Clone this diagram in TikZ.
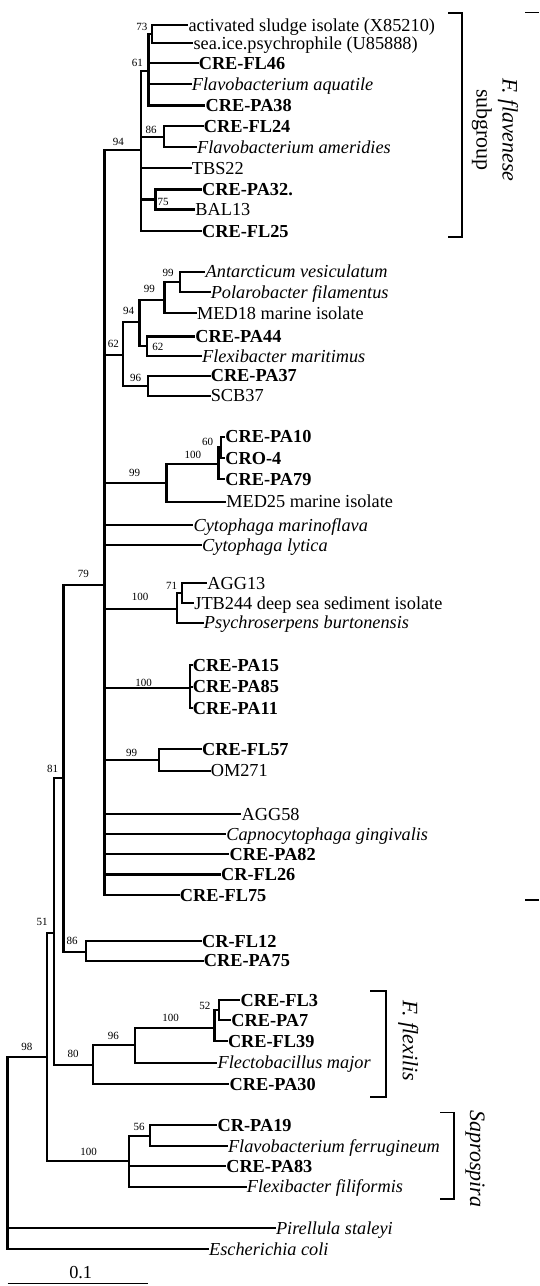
\documentclass[tikz,border=0pt]{standalone}
\usepackage{fontspec}
\setmainfont{Liberation Serif}
\newcommand\leaffont{\fontsize{18.3}{20}\selectfont}
\newcommand\bsfont{\fontsize{11}{12}\selectfont}
\newcommand\grpfont{\fontsize{22}{24}\selectfont}
\newcommand\leaf[5]{\coordinate (#1) at (#2,#3); \node[leaflab,#4] (#1-t) at (#1) {#5};}
\newcommand\kids[2]{\foreach \c in {#2} {\draw[branch] (#1) |- (\c);}}
\tikzset{
  branch/.style={line width=2.3pt, line cap=rect, line join=miter},
  leaflab/.style={anchor=base west, yshift=-6.05pt, inner xsep=1.2pt, inner ysep=0pt, font=\leaffont},
  lrg/.style={},
  lbf/.style={font=\leaffont\bfseries},
  lit/.style={font=\leaffont\itshape},
  bsl/.style={font=\bsfont, inner sep=0pt},
  brk/.style={line width=1.5pt},
  grp/.style={font=\grpfont, rotate=-90, inner sep=0pt}
}
\begin{document}
\begin{tikzpicture}[x=1pt,y=-1pt]
\useasboundingbox (0,0) rectangle (539,1286);
% ---- leaves ----
\leaf{L1}{187.1}{25}{lrg}{activated sludge isolate (X85210)}
\leaf{L2}{192.2}{43.3}{lrg}{sea.ice.psychrophile (U85888)}
\leaf{L3}{197.4}{63.3}{lbf}{CRE-FL46}
\leaf{L4}{190.5}{84.3}{lit}{Flavobacterium aquatile}
\leaf{L5}{204.3}{105.5}{lbf}{CRE-PA38}
\leaf{L6}{202.5}{126}{lbf}{CRE-FL24}
\leaf{L7}{195.7}{147.3}{lit}{Flavobacterium ameridies}
\leaf{L8}{190.5}{168.3}{lrg}{TBS22}
\leaf{L9}{200.8}{189.5}{lbf}{CRE-PA32.}
\leaf{L10}{194}{209.5}{lrg}{BAL13}
\leaf{L11}{200.8}{231}{lbf}{CRE-FL25}
\leaf{L12}{204.3}{271.7}{lit}{Antarcticum vesiculatum}
\leaf{L13}{209.4}{292}{lit}{Polarobacter filamentus}
\leaf{L14}{195.7}{313.3}{lrg}{MED18 marine isolate}
\leaf{L15}{194}{336.5}{lbf}{CRE-PA44}
\leaf{L16}{200.8}{356}{lit}{Flexibacter maritimus}
\leaf{L17}{209.4}{375.7}{lbf}{CRE-PA37}
\leaf{L18}{209.4}{395.7}{lrg}{SCB37}
\leaf{L19}{224}{436.7}{lbf}{CRE-PA10}
\leaf{L20}{224}{458.3}{lbf}{CRO-4}
\leaf{L21}{224}{479.3}{lbf}{CRE-PA79}
\leaf{L22}{224.9}{501.7}{lrg}{MED25 marine isolate}
\leaf{L23}{192.2}{525}{lit}{Cytophaga marinoflava}
\leaf{L24}{200.8}{545}{lit}{Cytophaga lytica}
\leaf{L25}{206}{583.3}{lrg}{AGG13}
\leaf{L26}{193}{603.3}{lrg}{JTB244 deep sea sediment isolate}
\leaf{L27}{202.5}{622.7}{lit}{Psychroserpens burtonensis}
\leaf{L28}{191.5}{665}{lbf}{CRE-PA15}
\leaf{L29}{191.5}{686.7}{lbf}{CRE-PA85}
\leaf{L30}{191.5}{708.3}{lbf}{CRE-PA11}
\leaf{L31}{200.8}{749.3}{lbf}{CRE-FL57}
\leaf{L32}{209.4}{770.7}{lrg}{OM271}
\leaf{L33}{240.3}{814}{lrg}{AGG58}
\leaf{L34}{224.9}{834}{lit}{Capnocytophaga gingivalis}
\leaf{L35}{228.3}{854}{lbf}{CRE-PA82}
\leaf{L36}{219.7}{874.5}{lbf}{CR-FL26}
\leaf{L37}{178.5}{895}{lbf}{CRE-FL75}
\leaf{L38}{200.8}{941}{lbf}{CR-FL12}
\leaf{L39}{202.5}{960.7}{lbf}{CRE-PA75}
\leaf{L40}{239.3}{1000}{lbf}{CRE-FL3}
\leaf{L41}{230}{1020}{lbf}{CRE-PA7}
\leaf{L42}{226.6}{1041}{lbf}{CRE-FL39}
\leaf{L43}{216.3}{1062.7}{lit}{Flectobacillus major}
\leaf{L44}{228.3}{1084}{lbf}{CRE-PA30}
\leaf{L45}{216.3}{1125}{lbf}{CR-PA19}
\leaf{L46}{226.6}{1146}{lit}{Flavobacterium ferrugineum}
\leaf{L47}{224.9}{1166}{lbf}{CRE-PA83}
\leaf{L48}{245.5}{1186.7}{lit}{Flexibacter filiformis}
\leaf{L49}{274.6}{1228.3}{lit}{Pirellula staleyi}
\leaf{L50}{207.7}{1249.3}{lit}{Escherichia coli}
% ---- internal nodes ----
\coordinate (n73) at (152.1,34);
\coordinate (n86a) at (164.1,137);
\coordinate (n75) at (155.5,199.5);
\coordinate (n61) at (148.6,71);
\coordinate (n94a) at (140.7,150);
\coordinate (n99a) at (180.2,282);
\coordinate (n99b) at (164.5,300);
\coordinate (n62a) at (147.3,346);
\coordinate (n94b) at (139.5,322);
\coordinate (n96a) at (148.3,386);
\coordinate (n62b) at (122.9,355);
\coordinate (n60) at (221,447.5);
\coordinate (n100a) at (218.5,464.3);
\coordinate (n99c) at (166.5,482.7);
\coordinate (n71) at (181.9,593);
\coordinate (n100b) at (176.8,609.3);
\coordinate (n100c) at (189.8,688);
\coordinate (n99d) at (158.9,760);
\coordinate (n79) at (104.5,585);
\coordinate (n86b) at (85.8,951.7);
\coordinate (n81) at (63.5,778);
\coordinate (n52) at (218.7,1010);
\coordinate (n100d) at (214.6,1028.3);
\coordinate (n96b) at (134.9,1045);
\coordinate (n80) at (92.7,1065);
\coordinate (n51) at (54.2,933.3);
\coordinate (n56) at (150,1135.7);
\coordinate (n100e) at (128.7,1161);
\coordinate (n98) at (47,1056.7);
\coordinate (root) at (7.6,1150);
% ---- branches ----
\kids{n73}{L1,L2}
\kids{n86a}{L6,L7}
\kids{n75}{L9,L10}
\kids{n61}{n73,L3,L4,L5}
\kids{n94a}{n61,n86a,L8,n75,L11}
\kids{n99a}{L12,L13}
\kids{n99b}{n99a,L14}
\kids{n62a}{L15,L16}
\kids{n94b}{n99b,n62a}
\kids{n96a}{L17,L18}
\kids{n62b}{n94b,n96a}
\kids{n60}{L19,L20}
\kids{n100a}{n60,L21}
\kids{n99c}{n100a,L22}
\kids{n71}{L25,L26}
\kids{n100b}{n71,L27}
\kids{n100c}{L28,L29,L30}
\kids{n99d}{L31,L32}
\kids{n79}{n94a,n62b,n99c,L23,L24,n100b,n100c,n99d,L33,L34,L35,L36,L37}
\kids{n86b}{L38,L39}
\kids{n81}{n79,n86b}
\kids{n52}{L40,L41}
\kids{n100d}{n52,L42}
\kids{n96b}{n100d,L43}
\kids{n80}{n96b,L44}
\kids{n51}{n81,n80}
\kids{n56}{L45,L46}
\kids{n100e}{n56,L47,L48}
\kids{n98}{n51,n100e}
\kids{root}{n98,L49,L50}
% ---- bootstrap values ----
\node[bsl] (b1) at (141.8,26.7) {73};
\node[bsl] (b2) at (137.3,63) {61};
\node[bsl] (b3) at (118.4,141.7) {94};
\node[bsl] (b4) at (151,130) {86};
\node[bsl] (b5) at (163,201.7) {75};
\node[bsl] (b6) at (168.2,272.7) {99};
\node[bsl] (b7) at (149.3,289.3) {99};
\node[bsl] (b8) at (128.7,311) {94};
\node[bsl] (b9) at (157.9,347) {62};
\node[bsl] (b10) at (113.3,344.3) {62};
\node[bsl] (b11) at (135.6,377.7) {96};
\node[bsl] (b12) at (207.7,441.7) {60};
\node[bsl] (b13) at (192.9,455) {100};
\node[bsl] (b14) at (134.6,473.3) {99};
\node[bsl] (b15) at (83.4,574) {79};
\node[bsl] (b16) at (140,596.7) {100};
\node[bsl] (b17) at (171.6,585.7) {71};
\node[bsl] (b18) at (143.5,683.3) {100};
\node[bsl] (b19) at (131.5,752.7) {99};
\node[bsl] (b20) at (52.5,769) {81};
\node[bsl] (b21) at (72.1,941) {86};
\node[bsl] (b22) at (42.2,922.3) {51};
\node[bsl] (b23) at (204.9,1006) {52};
\node[bsl] (b24) at (170.6,1017.7) {100};
\node[bsl] (b25) at (113.3,1035.7) {96};
\node[bsl] (b26) at (73.1,1054.3) {80};
\node[bsl] (b27) at (26.8,1046.7) {98};
\node[bsl] (b28) at (139,1126.7) {56};
\node[bsl] (b29) at (88.6,1151.7) {100};
% ---- brackets ----
\coordinate (fa1) at (448,13); \coordinate (fa2) at (462,13);
\coordinate (fa3) at (462,237); \coordinate (fa4) at (448,237);
\draw[brk] (fa1) -- (fa2) -- (fa3) -- (fa4);
\node[grp, font=\grpfont\itshape] (gfa) at (508,130) {F. flavenese};
\node[grp] (gsub) at (482,130) {subgroup};
\coordinate (ra1) at (525,12.5); \coordinate (ra2) at (539,12.5);
\coordinate (rb1) at (525,900); \coordinate (rb2) at (539,900);
\draw[brk] (ra1) -- (ra2);
\draw[brk] (rb1) -- (rb2);
\coordinate (fx1) at (370,991); \coordinate (fx2) at (386,991);
\coordinate (fx3) at (386,1097); \coordinate (fx4) at (370,1097);
\draw[brk] (fx1) -- (fx2) -- (fx3) -- (fx4);
\node[grp, font=\grpfont\itshape] (gfx) at (408.3,1041) {F. flexilis};
\coordinate (sp1) at (440,1112.5); \coordinate (sp2) at (454,1112.5);
\coordinate (sp3) at (454,1199); \coordinate (sp4) at (440,1199);
\draw[brk] (sp1) -- (sp2) -- (sp3) -- (sp4);
\node[grp, font=\grpfont\itshape] (gsp) at (475,1159) {Saprospira};
% ---- scale bar ----
\coordinate (s1) at (7.6,1283.5); \coordinate (s2) at (147.6,1283.5);
\draw[line width=1.6pt] (s1) -- (s2);
\node[font=\leaffont, inner sep=0pt] (sc) at (80.7,1272.7) {0.1};
\end{tikzpicture}
\end{document}
